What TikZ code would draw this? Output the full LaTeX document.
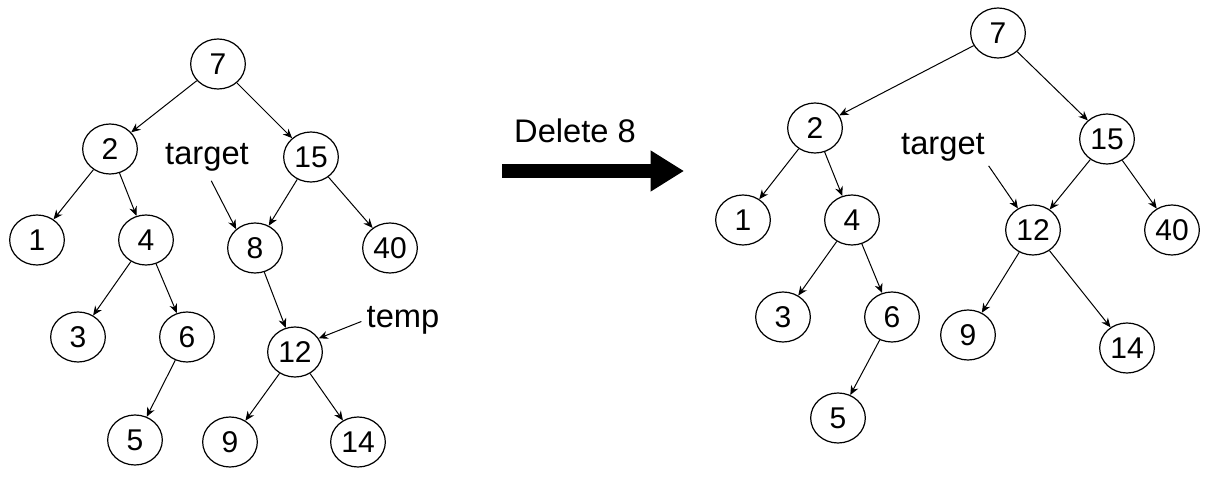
\documentclass[tikz,border=0pt]{standalone}
\usepackage{fontspec}
\setmainfont{Liberation Sans}
\usetikzlibrary{arrows.meta,shapes.geometric}

\begin{document}
\begin{tikzpicture}[
    x=0.75pt, y=-0.75pt,
    key/.style={draw, ellipse, line width=0.9pt, minimum width=41pt, minimum height=37.5pt,
        inner sep=0pt, font=\fontsize{22.5}{24}\selectfont},
    tag/.style={font=\fontsize{24.5}{27}\selectfont, inner sep=1pt},
    edge/.style={line width=0.75pt, -{Stealth[length=7pt,width=6pt]}},
    pointer/.style={line width=0.75pt, -{Stealth[length=7pt,width=6pt]}}
]
    \useasboundingbox (0,0) rectangle (1205,478);%frame

    % tree before deletion
    \node[key] (l7) at (218,64) {7};
    \node[key] (l2) at (110,149) {2};
    \node[key] (l15) at (311,157) {15};
    \node[key] (l1) at (37,240) {1};
    \node[key] (l4) at (146,240) {4};
    \node[key] (l8) at (255,248) {8};
    \node[key] (l40) at (390,248) {40};
    \node[key] (l3) at (78,337) {3};
    \node[key] (l6) at (187,337) {6};
    \node[key] (l12) at (295,352) {12};
    \node[key] (l5) at (135,440) {5};
    \node[key] (l9) at (230,442) {9};
    \node[key] (l14) at (358,442) {14};

    \foreach \a/\b in {l7/l2, l7/l15, l2/l1, l2/l4, l4/l3, l4/l6, l6/l5,
        l15/l8, l15/l40, l8/l12, l12/l9, l12/l14}{
        \draw[edge] (\a) -- (\b);
    }

    \node[tag] (ltarget) at (207,157) {target};
    \node[tag] (ltemp) at (403,320) {temp};
    \draw[pointer, shorten <=7pt] (ltarget.south) -- (l8.135);
    \draw[pointer, shorten <=3pt] (ltemp.west) -- (l12.30);

    % the step
    \coordinate (from) at (502,171);
    \coordinate (to) at (684,171);
    \draw[line width=10pt, -{Triangle[length=25pt,width=29pt]}] (from) -- (to);
    \node[tag] (step) at (575,131) {Delete 8};

    % tree after deletion
    \node[key] (r7) at (998,33) {7};
    \node[key] (r2) at (815,128) {2};
    \node[key] (r15) at (1107,139) {15};
    \node[key] (r1) at (743,220) {1};
    \node[key] (r4) at (852,220) {4};
    \node[key] (r12) at (1033,230) {12};
    \node[key] (r40) at (1172,230) {40};
    \node[key] (r3) at (783,317) {3};
    \node[key] (r6) at (892,317) {6};
    \node[key] (r9) at (968,335) {9};
    \node[key] (r14) at (1127,348) {14};
    \node[key] (r5) at (838,418) {5};

    \foreach \a/\b in {r7/r2, r7/r15, r2/r1, r2/r4, r4/r3, r4/r6, r6/r5,
        r15/r12, r15/r40, r12/r9, r12/r14}{
        \draw[edge] (\a) -- (\b);
    }

    \node[tag] (rtarget) at (943,147) {target};
    \draw[pointer, shorten <=3pt] (rtarget.south east) -- (r12.125);
\end{tikzpicture}
\end{document}
